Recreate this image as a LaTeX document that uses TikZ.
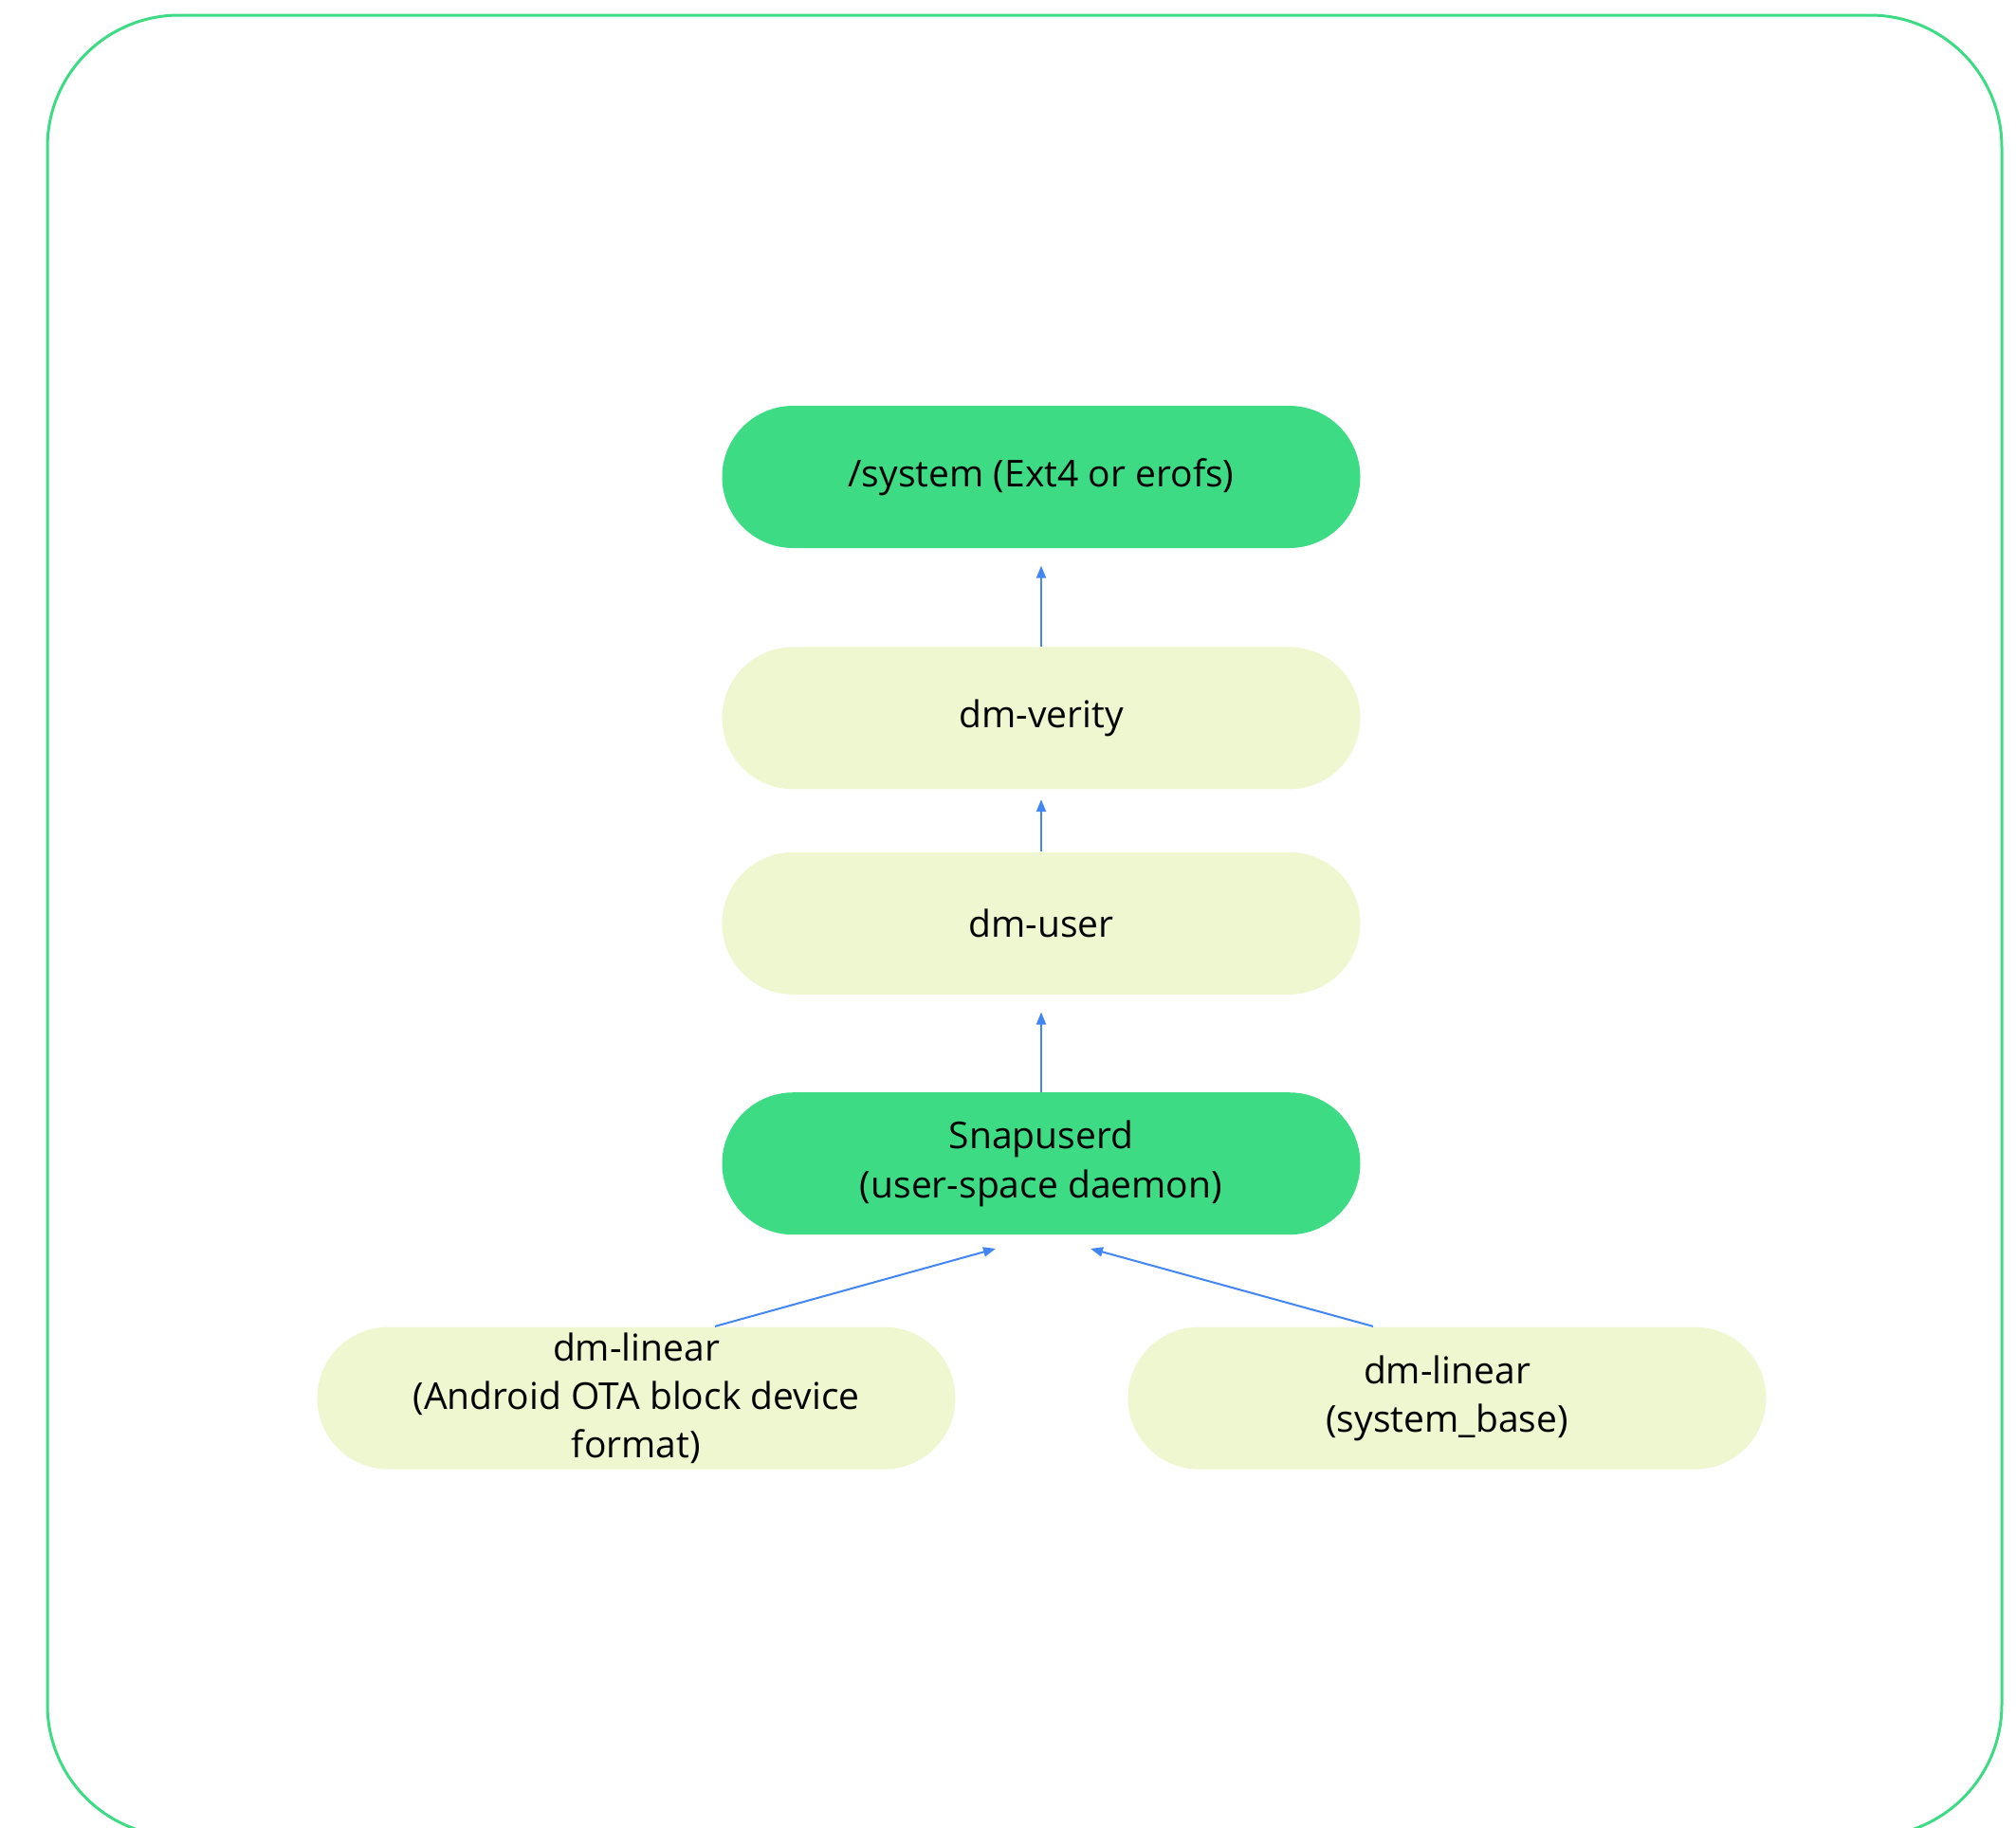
\documentclass[tikz,border=0pt]{standalone}
\usepackage{fontspec}
\setmainfont{Open Sans}
\usepackage{xcolor}
\usepackage{tikz}
\usetikzlibrary{arrows.meta,positioning}
\definecolor{androidgreen}{HTML}{3DDC84}
\definecolor{palegreen}{HTML}{EEF7CF}
\definecolor{linkblue}{HTML}{4285F4}

\begin{document}
\begin{tikzpicture}[
    block/.style={rectangle, rounded corners=0.75cm, minimum width=6.73cm, minimum height=1.5cm, align=center, inner sep=0pt, font=\fontsize{11.1}{14.6}\selectfont},
    core/.style={block, fill=androidgreen},
    layer/.style={block, fill=palegreen},
    link/.style={-{Triangle[length=0.13cm, width=0.1cm]}, color=linkblue, line width=0.02cm}
]
    \useasboundingbox (0,0) rectangle (21.26,-19.28);
    \draw[androidgreen, line width=0.03cm, rounded corners=1.39cm] (0.50,-0.16) rectangle (21.11,-19.37);

    \node[core] (system) at (10.98,-5.03) {/system (Ext4 or erofs)};
    \node[layer, below=1.03cm of system] (verity) {dm-verity};
    \node[layer, below=0.65cm of verity] (dmuser) {dm-user};
    \node[core, below=1.02cm of dmuser] (snapuserd) {Snapuserd\\(user-space daemon)};
    \node[layer, below=0.96cm of snapuserd, xshift=-4.27cm] (linearota) {dm-linear\\(Android OTA block device\\format)};
    \node[layer, below=0.96cm of snapuserd, xshift=4.28cm] (linearbase) {dm-linear\\(system\_base)};

    \draw[link] (verity.north) -- ([yshift=-0.18cm]system.south);
    \draw[link] (dmuser.north) -- ([yshift=-0.10cm]verity.south);
    \draw[link] (snapuserd.north) -- ([yshift=-0.18cm]dmuser.south);
    \draw[link] ([xshift=0.83cm]linearota.north) -- ([xshift=-0.48cm, yshift=-0.14cm]snapuserd.south);
    \draw[link] ([xshift=-0.78cm]linearbase.north) -- ([xshift=0.52cm, yshift=-0.14cm]snapuserd.south);
\end{tikzpicture}
\end{document}
